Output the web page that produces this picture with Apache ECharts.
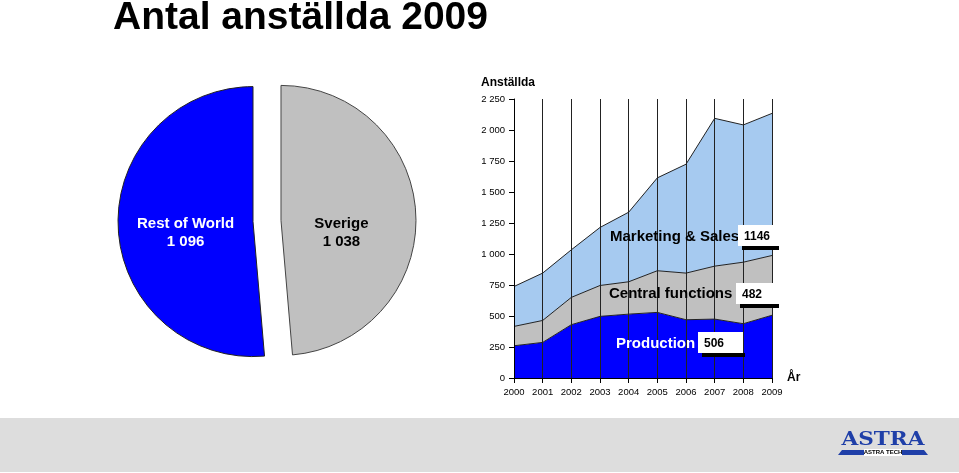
<!DOCTYPE html>
<html>
<head>
<meta charset="utf-8">
<script src="https://cdn.jsdelivr.net/npm/echarts@6/dist/echarts.min.js"></script>
<style>
html,body{margin:0;padding:0;background:#fff;}
#c{width:959px;height:473px;}
</style>
</head>
<body>
<div id="c"></div>
<script>
// ---- data ----
const titleText = 'Antal anställda 2009';
const years = ['2000','2001','2002','2003','2004','2005','2006','2007','2008','2009'];
const seriesNames = ['Production', 'Central functions', 'Marketing & Sales'];
const production = [260, 287, 430, 497, 515, 529, 470, 475, 438, 506];
const central    = [156, 177, 220, 249, 261, 336, 376, 427, 496, 482];
const marketing  = [322, 382, 384, 468, 561, 749, 878, 1192, 1107, 1146];
const pieNames = ['Sverige', 'Rest of World'];
const pieValues = [1038, 1096];
const yAxisName = 'Anställda';
const xAxisName = 'År';
const yMin = 0, yMax = 2250, yStep = 250;

// ---- helpers ----
const fmt = v => String(v).replace(/\B(?=(\d{3})+(?!\d))/g, ' ');
const FONT = 'Liberation Sans, Arial, Helvetica, sans-serif';
const C_BLUE = '#0000FF', C_GRAY = '#C0C0C0', C_LIGHT = '#A6CAF0';
const last = a => a[a.length - 1];

const chart = echarts.init(document.getElementById('c'), null, {renderer: 'canvas'});

function valueBox(x, y, w, h, val) {
  return {
    type: 'group', x: x, y: y,
    children: [
      {type: 'rect', z: 50, shape: {x: 4, y: h, width: w - 2, height: 4}, style: {fill: '#000'}},
      {type: 'rect', z: 51, shape: {x: 0, y: 0, width: w, height: h}, style: {fill: '#fff'}},
      {type: 'text', z: 52, x: 6, y: h / 2 + 1, style: {text: String(val), fill: '#000', font: 'bold 12px ' + FONT, verticalAlign: 'middle', align: 'left'}}
    ]
  };
}

const option = {
  backgroundColor: '#fff',
  animation: false,
  title: {
    text: titleText, left: 113, top: -1, padding: 0,
    textStyle: {fontFamily: FONT, fontWeight: 'bold', fontSize: 39, color: '#000'}
  },
  grid: {left: 514, right: 187, top: 99, bottom: 95, containLabel: false},
  xAxis: {
    type: 'category', data: years, boundaryGap: false, z: 5,
    name: xAxisName, nameLocation: 'end', nameGap: 15,
    nameTextStyle: {fontFamily: FONT, fontWeight: 'bold', fontSize: 12, color: '#000', verticalAlign: 'middle'},
    axisLine: {lineStyle: {color: '#000', width: 1}},
    axisTick: {show: true, interval: 0, length: 5, lineStyle: {color: '#000'}},
    axisLabel: {interval: 0, fontFamily: FONT, fontSize: 9.5, color: '#000', margin: 9},
    splitLine: {show: true, interval: 0, lineStyle: {color: '#222', width: 1}}
  },
  yAxis: {
    type: 'value', min: yMin, max: yMax, interval: yStep, z: 5,
    axisLine: {show: true, lineStyle: {color: '#000', width: 1}},
    axisTick: {show: true, length: 5, lineStyle: {color: '#000'}},
    axisLabel: {fontFamily: FONT, fontSize: 9.5, color: '#000', margin: 9, formatter: fmt},
    splitLine: {show: false}
  },
  series: [
    {
      type: 'pie', center: [267, 221], radius: 135, startAngle: 90, clockwise: true,
      selectedMode: 'multiple', selectedOffset: 14, z: 3,
      label: {show: true, position: 'inside', fontFamily: FONT, fontWeight: 'bold', fontSize: 15, lineHeight: 18,
        formatter: p => p.name + '\n' + fmt(p.value)},
      labelLine: {show: false},
      labelLayout: p => (p.dataIndex === 0 ? {dx: -10, dy: 15} : {dx: 3, dy: 8}),
      emphasis: {disabled: true},
      data: [
        {name: pieNames[0], value: pieValues[0], selected: true,
          itemStyle: {color: C_GRAY, borderColor: '#444', borderWidth: 1},
          select: {itemStyle: {color: C_GRAY, borderColor: '#444', borderWidth: 1}, label: {color: '#000'}},
          label: {color: '#000'}},
        {name: pieNames[1], value: pieValues[1], selected: true,
          itemStyle: {color: C_BLUE, borderColor: '#222', borderWidth: 1},
          select: {itemStyle: {color: C_BLUE, borderColor: '#222', borderWidth: 1}, label: {color: '#fff'}},
          label: {color: '#fff'}}
      ]
    },
    {
      name: seriesNames[0], type: 'line', stack: 'emp', data: production, symbol: 'none', z: 2,
      lineStyle: {color: '#222', width: 1}, areaStyle: {color: C_BLUE, opacity: 1}
    },
    {
      name: seriesNames[1], type: 'line', stack: 'emp', data: central, symbol: 'none', z: 2,
      lineStyle: {color: '#222', width: 1}, areaStyle: {color: C_GRAY, opacity: 1}
    },
    {
      name: seriesNames[2], type: 'line', stack: 'emp', data: marketing, symbol: 'none', z: 2,
      lineStyle: {color: '#222', width: 1}, areaStyle: {color: C_LIGHT, opacity: 1}
    }
  ],
  graphic: [
    // bottom band
    {type: 'rect', left: 0, top: 418, z: 0, shape: {width: 959, height: 54}, style: {fill: '#DDDDDD'}},
    // y axis name
    {type: 'text', x: 481, y: 83, z: 10, style: {text: yAxisName, fill: '#000', font: 'bold 12px ' + FONT, verticalAlign: 'middle', align: 'left'}},
    // series labels
    {type: 'text', x: 610, y: 237, z: 40, style: {text: seriesNames[2], fill: '#000', font: 'bold 15px ' + FONT, verticalAlign: 'middle', align: 'left'}},
    {type: 'text', x: 609, y: 294, z: 40, style: {text: seriesNames[1], fill: '#000', font: 'bold 15px ' + FONT, verticalAlign: 'middle', align: 'left'}},
    {type: 'text', x: 616, y: 344, z: 40, style: {text: seriesNames[0], fill: '#fff', font: 'bold 15px ' + FONT, verticalAlign: 'middle', align: 'left'}},
    valueBox(738, 225, 39, 21, last(marketing)),
    valueBox(736, 283, 41, 21, last(central)),
    valueBox(698, 332, 45, 21, last(production)),
    // logo
    {type: 'group', x: 838, y: 430, children: [
      {type: 'text', z: 20, x: 45, y: 10, scaleX: 1.2, style: {text: 'ASTRA', fill: '#1F3FA8', font: 'bold 18px DejaVu Serif, serif', align: 'center', verticalAlign: 'middle'}},
      {type: 'polygon', z: 20, shape: {points: [[0, 25], [4, 20], [86, 20], [90, 25]]}, style: {fill: '#1F3FA8'}},
      {type: 'rect', z: 21, shape: {x: 26, y: 19, width: 38, height: 7}, style: {fill: '#fff'}},
      {type: 'text', z: 22, x: 45, y: 22.5, style: {text: 'ASTRA TECH', fill: '#000', font: 'bold 6px ' + FONT, align: 'center', verticalAlign: 'middle'}}
    ]}
  ]
};
chart.setOption(option);
</script>
</body>
</html>
